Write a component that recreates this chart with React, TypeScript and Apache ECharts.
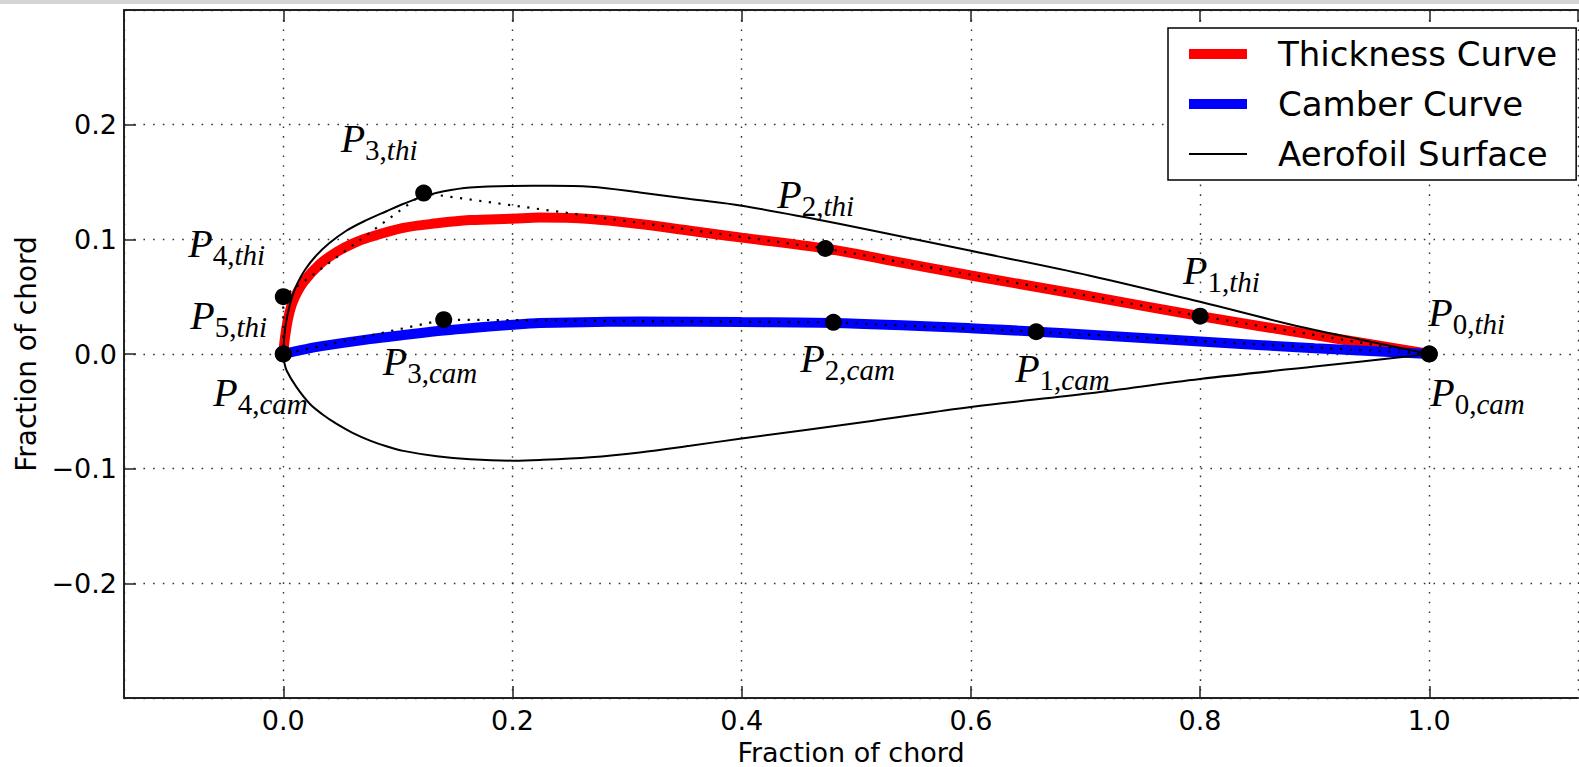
import React, { useEffect, useRef } from 'react';
import * as echarts from 'echarts';

// ---- Data (fraction of chord) ----
const thicknessCurve: [number, number][] = [
  [0, 0], [0.0015, 0.0145], [0.0044, 0.032], [0.0087, 0.0465], [0.0175, 0.0625],
  [0.032, 0.0785], [0.0466, 0.089], [0.061, 0.0965], [0.0757, 0.102], [0.1047, 0.11],
  [0.134, 0.114], [0.163, 0.1168], [0.2, 0.118], [0.224, 0.119], [0.268, 0.1177],
  [0.311, 0.1133], [0.355, 0.1075], [0.4, 0.1015], [0.473, 0.092], [0.53, 0.0815],
  [0.6, 0.0685], [0.7, 0.051], [0.8, 0.033], [0.9, 0.0165], [0.95, 0.0083], [1, 0],
];

const camberCurve: [number, number][] = [
  [0, 0], [0.0175, 0.0038], [0.032, 0.0066], [0.0757, 0.013], [0.1047, 0.0165],
  [0.14, 0.0205], [0.2, 0.0255], [0.224, 0.027], [0.311, 0.0284], [0.4, 0.0278],
  [0.48, 0.027], [0.6, 0.0225], [0.657, 0.0195], [0.7, 0.017], [0.8, 0.011],
  [0.9, 0.005], [1, 0],
];

const upperSurface: [number, number][] = [
  [0, 0], [0.0006, 0.012], [0.002, 0.025], [0.0045, 0.038], [0.0078, 0.05],
  [0.0125, 0.062], [0.019, 0.0735], [0.028, 0.085], [0.04, 0.0965], [0.055, 0.1075],
  [0.072, 0.1165], [0.09, 0.1245], [0.105, 0.131], [0.1225, 0.1375], [0.14, 0.142],
  [0.163, 0.1453], [0.2, 0.1466], [0.233, 0.1467], [0.268, 0.1458], [0.311, 0.1409],
  [0.355, 0.1351], [0.4, 0.1293], [0.457, 0.119], [0.515, 0.1075], [0.6, 0.09],
  [0.704, 0.0683], [0.8, 0.0455], [0.878, 0.026], [0.94, 0.0125], [1, 0],
];

const lowerSurface: [number, number][] = [
  [0, 0], [0.0006, -0.006], [0.003, -0.0146], [0.0117, -0.0291], [0.0233, -0.0436],
  [0.034, -0.0525], [0.0466, -0.061], [0.06, -0.0685], [0.0757, -0.0755], [0.09, -0.0805],
  [0.1047, -0.0845], [0.134, -0.0892], [0.163, -0.0918], [0.2, -0.093], [0.224, -0.0924],
  [0.268, -0.09], [0.311, -0.0858], [0.355, -0.08], [0.4, -0.0737], [0.515, -0.0582],
  [0.6, -0.0462], [0.704, -0.0343], [0.8, -0.0218], [0.9, -0.011], [1, 0],
];

// control polygons (P0 .. Pn)
const thicknessControl: [number, number][] = [
  [1, 0], [0.8, 0.033], [0.473, 0.092], [0.1225, 0.1403], [0, 0.05], [0, 0],
];
const thicknessControlNames = ['0,', '1,', '2,', '3,', '4,', '5,'];

const camberControl: [number, number][] = [
  [1, 0], [0.657, 0.0194], [0.48, 0.0276], [0.14, 0.0299], [0, 0],
];
const camberControlNames = ['0,', '1,', '2,', '3,', '4,'];

const seriesNames = ['Thickness Curve', 'Camber Curve', 'Aerofoil Surface'];

// ---- Label placement (pixel offsets of each annotation from its point) ----
const thicknessLabelOffsets: [number, number][] = [
  [-1, -16], [-17, -20], [-48, -28], [-83, -29], [-95, -27], [-93, -13],
];
const camberLabelOffsets: [number, number][] = [
  [1, 64], [-21, 63], [-33, 62], [-61, 68], [-70, 64],
];

const serif = 'Liberation Serif';

function fmtY(v: number): string {
  if (Math.abs(v) > 0.25) return '';
  const s = v.toFixed(1);
  return s === '-0.0' ? '0.0' : s.replace('-', '\u2212');
}
function fmtX(v: number): string {
  const k = v * 5;
  if (Math.abs(k - Math.round(k)) > 1e-6) return '';
  if (v < -1e-9 || v > 1 + 1e-9) return '';
  const s = v.toFixed(1);
  return s === '-0.0' ? '0.0' : s;
}

export default function App() {
  const ref = useRef<HTMLDivElement>(null);
  useEffect(() => {
    if (!ref.current) return;
    const chart = echarts.init(ref.current, undefined, { renderer: 'svg' });

    const labelRich = {
      p: { fontFamily: serif, fontStyle: 'italic', fontSize: 40, color: '#000', verticalAlign: 'bottom', padding: [0, 0, 6, 0] },
      n: { fontFamily: serif, fontSize: 29, color: '#000', verticalAlign: 'bottom' },
      s: { fontFamily: serif, fontStyle: 'italic', fontSize: 29, color: '#000', verticalAlign: 'bottom' },
    };

    const pointData: any[] = [];
    thicknessControl.forEach((p, i) => {
      pointData.push({
        value: p,
        label: { formatter: `{p|P}{n|${thicknessControlNames[i]}}{s|thi}`, offset: thicknessLabelOffsets[i] },
      });
    });
    camberControl.forEach((p, i) => {
      pointData.push({
        value: p,
        label: { formatter: `{p|P}{n|${camberControlNames[i]}}{s|cam}`, offset: camberLabelOffsets[i] },
      });
    });

    const surface = [...upperSurface.slice().reverse(), ...lowerSurface.slice(1)];

    const gridDots = { color: '#333', width: 1.4, type: [1.6, 8.1] as any };
    const xMin = -0.139;
    const xMax = 1.1298;

    const option: any = {
      animation: false,
      backgroundColor: '#fff',
      textStyle: { fontFamily: 'DejaVu Sans' },
      graphic: [
        { type: 'rect', left: 0, top: 0, shape: { width: 1579, height: 4 }, style: { fill: '#d4d4d4' }, silent: true },
      ],
      grid: { left: 124, top: 10, width: 1454, height: 688, outerBoundsMode: 'none', containLabel: false },
      legend: {
        orient: 'vertical',
        left: 1168,
        top: 28,
        padding: [6, 19, 6, 16],
        itemGap: 10,
        itemWidth: 58,
        itemHeight: 20,
        backgroundColor: '#fff',
        borderColor: '#000',
        borderWidth: 1.5,
        borderRadius: 0,
        textStyle: { fontFamily: 'DejaVu Sans', fontSize: 34, color: '#000', lineHeight: 40, padding: [0, 0, 0, 26] },
        data: [
          { name: seriesNames[0], lineStyle: { width: 10 }, itemStyle: { opacity: 0 } },
          { name: seriesNames[1], lineStyle: { width: 10 }, itemStyle: { opacity: 0 } },
          { name: seriesNames[2], lineStyle: { width: 2 }, itemStyle: { opacity: 0 } },
        ],
      },
      xAxis: [
        {
          type: 'value',
          min: xMin,
          max: xMax,
          splitNumber: 6,
          name: 'Fraction of chord',
          nameLocation: 'middle',
          nameGap: 35,
          nameTextStyle: { fontFamily: 'DejaVu Sans', fontSize: 27, lineHeight: 26, color: '#000' },
          axisLine: { show: true, onZero: false, lineStyle: { color: '#222', width: 2 } },
          axisTick: { show: true, inside: true, length: 12, lineStyle: { color: '#222', width: 1.5 } },
          axisLabel: { fontFamily: 'DejaVu Sans', fontSize: 27, color: '#000', margin: 9, formatter: fmtX, showMinLabel: false, showMaxLabel: false },
          splitLine: { show: true, lineStyle: gridDots },
        },
        {
          type: 'value',
          position: 'top',
          min: xMin,
          max: xMax,
          splitNumber: 6,
          axisLine: { show: true, onZero: false, lineStyle: { color: '#222', width: 2 } },
          axisTick: { show: true, inside: true, length: 12, lineStyle: { color: '#222', width: 1.5 } },
          axisLabel: { show: false },
          splitLine: { show: false },
        },
      ],
      yAxis: {
        type: 'value',
        min: -0.3,
        max: 0.3,
        interval: 0.1,
        name: 'Fraction of chord',
        nameLocation: 'middle',
        nameGap: 81,
        nameTextStyle: { fontFamily: 'DejaVu Sans', fontSize: 28, color: '#000' },
        axisLine: { show: true, onZero: false, lineStyle: { color: '#222', width: 2 } },
        axisTick: { show: true, inside: true, length: 12, lineStyle: { color: '#222', width: 1.5 } },
        axisLabel: { fontFamily: 'DejaVu Sans', fontSize: 27, color: '#000', margin: 7, formatter: fmtY, showMinLabel: false, showMaxLabel: false },
        splitLine: { show: true, lineStyle: gridDots },
      },
      series: [
        {
          name: seriesNames[0], type: 'line', data: thicknessCurve, smooth: 0.35, symbol: 'none',
          lineStyle: { color: '#ff0000', width: 10 }, itemStyle: { color: '#ff0000' }, z: 2,
        },
        {
          name: seriesNames[1], type: 'line', data: camberCurve, smooth: 0.35, symbol: 'none',
          lineStyle: { color: '#0000ff', width: 10 }, itemStyle: { color: '#0000ff' }, z: 3,
        },
        {
          name: seriesNames[2], type: 'line', data: surface, smooth: 0.35, symbol: 'none',
          lineStyle: { color: '#000', width: 2 }, itemStyle: { color: '#000' }, z: 4,
        },
        {
          name: 'thickness control polygon', type: 'line', data: thicknessControl, symbol: 'none',
          lineStyle: { color: '#000', width: 2.2, type: [2.2, 7.5] }, z: 5,
        },
        {
          name: 'camber control polygon', type: 'line', data: camberControl, symbol: 'none',
          lineStyle: { color: '#000', width: 2.2, type: [2.2, 7.5] }, z: 5,
        },
        {
          name: 'control points', type: 'scatter', data: pointData, symbol: 'circle', symbolSize: 17,
          itemStyle: { color: '#000', opacity: 1 }, z: 6,
          label: {
            show: true, position: 'inside', align: 'left', verticalAlign: 'bottom',
            rich: labelRich,
          },
        },
      ],
    };

    chart.setOption(option);
    return () => chart.dispose();
  }, []);

  return (
    <div
      ref={ref}
      style={{ position: 'fixed', left: 0, top: 0, width: 1579, height: 767, background: '#fff' }}
    />
  );
}
